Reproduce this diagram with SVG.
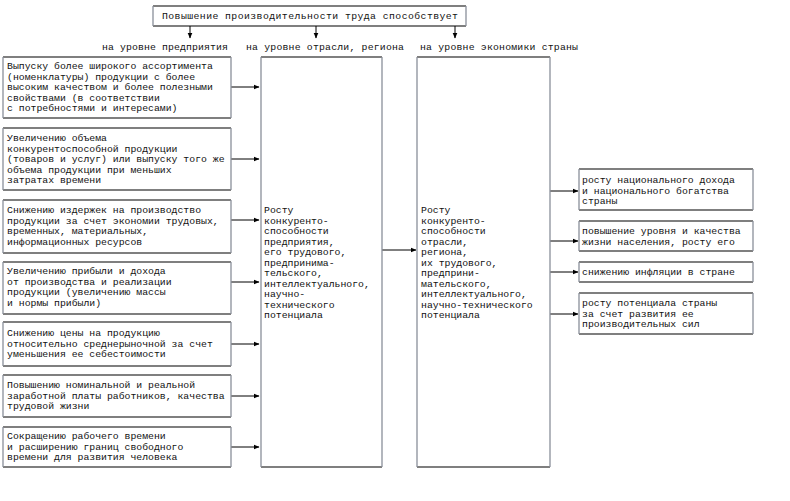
<svg xmlns="http://www.w3.org/2000/svg" width="790" height="501" viewBox="0 0 790 501">
<style>
  .t { font-family: "Liberation Mono", "Courier New", monospace; font-size: 9.8px; fill: #111; }
  .h { stroke: #000; stroke-width: 1.2; fill: none; }
  .v { stroke: #8a909a; stroke-width: 1.3; fill: none; }
  .bg { fill: #fff; stroke: none; }
  .c { stroke: #000; stroke-width: 1; fill: none; marker-end: url(#ah); }
</style>
<defs>
  <marker id="ah" markerUnits="userSpaceOnUse" markerWidth="6" markerHeight="6" refX="5.5" refY="3" orient="auto">
    <path d="M0,0.5 L6,3 L0,5.5 z" fill="#000"/>
  </marker>
</defs>
<rect width="790" height="501" fill="#fff"/>

<g id="connectors">
  <line class="c" x1="190" y1="26" x2="190" y2="38"/>
  <line class="c" x1="316" y1="26" x2="316" y2="38"/>
  <line class="c" x1="455" y1="26" x2="455" y2="38"/>
  <line class="c" x1="231" y1="87" x2="259" y2="87"/>
  <line class="c" x1="231" y1="159" x2="259" y2="159"/>
  <line class="c" x1="231" y1="220" x2="259" y2="220"/>
  <line class="c" x1="231" y1="282" x2="259" y2="282"/>
  <line class="c" x1="231" y1="344" x2="259" y2="344"/>
  <line class="c" x1="231" y1="396" x2="259" y2="396"/>
  <line class="c" x1="231" y1="447" x2="259" y2="447"/>
  <line class="c" x1="382" y1="250" x2="416" y2="250"/>
  <line class="c" x1="550" y1="191" x2="578" y2="191"/>
  <line class="c" x1="550" y1="241" x2="578" y2="241"/>
  <line class="c" x1="550" y1="272" x2="578" y2="272"/>
  <line class="c" x1="550" y1="314" x2="578" y2="314"/>
</g>

<g id="title">
  <rect class="bg" x="153" y="6" width="313" height="20"/>
  <path class="h" d="M153,6 H466 M153,26 H466"/>
  <path class="v" d="M153,6 V26 M466,6 V26"/>
  <text class="t" x="162" y="19" textLength="296" lengthAdjust="spacing">Повышение производительности труда способствует</text>
</g>

<g id="labels">
  <text class="t" x="102" y="50" textLength="126" lengthAdjust="spacing">на уровне предприятия</text>
  <text class="t" x="246" y="50" textLength="158" lengthAdjust="spacing">на уровне отрасли, региона</text>
  <text class="t" x="420" y="50" textLength="158" lengthAdjust="spacing">на уровне экономики страны</text>
</g>

<g id="left1">
  <rect class="bg" x="3" y="57" width="228" height="61"/>
  <path class="h" d="M3,57 H231 M3,118 H231"/>
  <path class="v" d="M3,57 V118 M231,57 V118"/>
  <text class="t" x="7" y="69">Выпуску более широкого ассортимента</text>
  <text class="t" x="7" y="79.5">(номенклатуры) продукции с более</text>
  <text class="t" x="7" y="90">высоким качеством и более полезными</text>
  <text class="t" x="7" y="100.5">свойствами (в соответствии</text>
  <text class="t" x="7" y="111">с потребностями и интересами)</text>
</g>

<g id="left2">
  <rect class="bg" x="3" y="128" width="228" height="62"/>
  <path class="h" d="M3,128 H231 M3,190 H231"/>
  <path class="v" d="M3,128 V190 M231,128 V190"/>
  <text class="t" x="7" y="141">Увеличению объема</text>
  <text class="t" x="7" y="151.5">конкурентоспособной продукции</text>
  <text class="t" x="7" y="162">(товаров и услуг) или выпуску того же</text>
  <text class="t" x="7" y="172.5">объема продукции при меньших</text>
  <text class="t" x="7" y="183">затратах времени</text>
</g>

<g id="left3">
  <rect class="bg" x="3" y="200" width="228" height="53"/>
  <path class="h" d="M3,200 H231 M3,253 H231"/>
  <path class="v" d="M3,200 V253 M231,200 V253"/>
  <text class="t" x="7" y="213">Снижению издержек на производство</text>
  <text class="t" x="7" y="223.5">продукции за счет экономии трудовых,</text>
  <text class="t" x="7" y="234">временных, материальных,</text>
  <text class="t" x="7" y="244.5">информационных ресурсов</text>
</g>

<g id="left4">
  <rect class="bg" x="3" y="262" width="228" height="52"/>
  <path class="h" d="M3,262 H231 M3,314 H231"/>
  <path class="v" d="M3,262 V314 M231,262 V314"/>
  <text class="t" x="7" y="274">Увеличению прибыли и дохода</text>
  <text class="t" x="7" y="284.5">от производства и реализации</text>
  <text class="t" x="7" y="295">продукции (увеличению массы</text>
  <text class="t" x="7" y="305.5">и нормы прибыли)</text>
</g>

<g id="left5">
  <rect class="bg" x="3" y="322" width="228" height="44"/>
  <path class="h" d="M3,322 H231 M3,366 H231"/>
  <path class="v" d="M3,322 V366 M231,322 V366"/>
  <text class="t" x="7" y="336">Снижению цены на продукцию</text>
  <text class="t" x="7" y="346.5">относительно среднерыночной за счет</text>
  <text class="t" x="7" y="357">уменьшения ее себестоимости</text>
</g>

<g id="left6">
  <rect class="bg" x="3" y="375" width="228" height="42"/>
  <path class="h" d="M3,375 H231 M3,417 H231"/>
  <path class="v" d="M3,375 V417 M231,375 V417"/>
  <text class="t" x="7" y="388">Повышению номинальной и реальной</text>
  <text class="t" x="7" y="398.5">заработной платы работников, качества</text>
  <text class="t" x="7" y="409">трудовой жизни</text>
</g>

<g id="left7">
  <rect class="bg" x="3" y="427" width="228" height="40"/>
  <path class="h" d="M3,427 H231 M3,467 H231"/>
  <path class="v" d="M3,427 V467 M231,427 V467"/>
  <text class="t" x="7" y="439">Сокращению рабочего времени</text>
  <text class="t" x="7" y="449.5">и расширению границ свободного</text>
  <text class="t" x="7" y="460">времени для развития человека</text>
</g>

<g id="mid1">
  <path class="h" d="M261,57 H382 M261,467 H382"/>
  <path class="v" d="M261,57 V467 M382,57 V467"/>
  <text class="t" x="264" y="213">Росту</text>
  <text class="t" x="264" y="223.5">конкуренто-</text>
  <text class="t" x="264" y="234">способности</text>
  <text class="t" x="264" y="244.5">предприятия,</text>
  <text class="t" x="264" y="255">его трудового,</text>
  <text class="t" x="264" y="265.5">предпринима-</text>
  <text class="t" x="264" y="276">тельского,</text>
  <text class="t" x="264" y="286.5">интеллектуального,</text>
  <text class="t" x="264" y="297">научно-</text>
  <text class="t" x="264" y="307.5">технического</text>
  <text class="t" x="264" y="318">потенциала</text>
</g>

<g id="mid2">
  <path class="h" d="M417,57 H550 M417,467 H550"/>
  <path class="v" d="M417,57 V467 M550,57 V467"/>
  <text class="t" x="421" y="213">Росту</text>
  <text class="t" x="421" y="223.5">конкуренто-</text>
  <text class="t" x="421" y="234">способности</text>
  <text class="t" x="421" y="244.5">отрасли,</text>
  <text class="t" x="421" y="255">региона,</text>
  <text class="t" x="421" y="265.5">их трудового,</text>
  <text class="t" x="421" y="276">предприни-</text>
  <text class="t" x="421" y="286.5">мательского,</text>
  <text class="t" x="421" y="297">интеллектуального,</text>
  <text class="t" x="421" y="307.5">научно-технического</text>
  <text class="t" x="421" y="318">потенциала</text>
</g>

<g id="right1">
  <rect class="bg" x="579" y="169" width="174" height="41"/>
  <path class="h" d="M579,169 H753 M579,210 H753"/>
  <path class="v" d="M579,169 V210 M753,169 V210"/>
  <text class="t" x="582" y="183">росту национального дохода</text>
  <text class="t" x="582" y="193.5">и национального богатства</text>
  <text class="t" x="582" y="204">страны</text>
</g>

<g id="right2">
  <rect class="bg" x="579" y="221" width="174" height="30"/>
  <path class="h" d="M579,221 H753 M579,251 H753"/>
  <path class="v" d="M579,221 V251 M753,221 V251"/>
  <text class="t" x="582" y="234">повышение уровня и качества</text>
  <text class="t" x="582" y="244.5">жизни населения, росту его</text>
</g>

<g id="right3">
  <rect class="bg" x="579" y="262" width="174" height="20"/>
  <path class="h" d="M579,262 H753 M579,282 H753"/>
  <path class="v" d="M579,262 V282 M753,262 V282"/>
  <text class="t" x="582" y="275">снижению инфляции в стране</text>
</g>

<g id="right4">
  <rect class="bg" x="579" y="293" width="174" height="41"/>
  <path class="h" d="M579,293 H753 M579,334 H753"/>
  <path class="v" d="M579,293 V334 M753,293 V334"/>
  <text class="t" x="582" y="306">росту потенциала страны</text>
  <text class="t" x="582" y="316.5">за счет развития ее</text>
  <text class="t" x="582" y="327">производительных сил</text>
</g>
</svg>
